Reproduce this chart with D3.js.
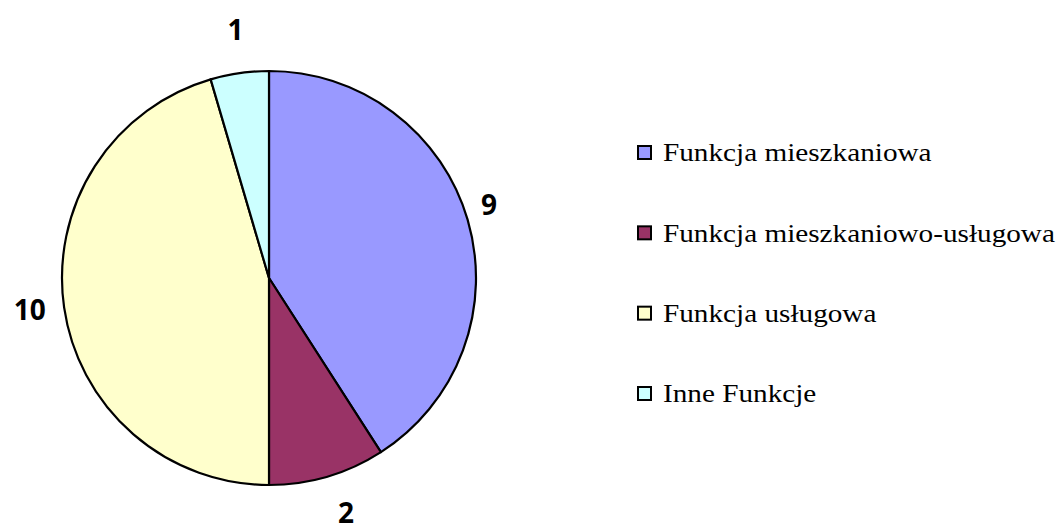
<!DOCTYPE html>
<html><head><meta charset="utf-8">
<script src="https://cdn.jsdelivr.net/npm/d3@7"></script>
<style>html,body{margin:0;padding:0;background:#fff;}
.leg text{font-family:"Liberation Serif","DejaVu Serif",serif;}</style>
</head><body>
<svg id="chart" width="1060" height="532"></svg>
<script>
const categories = ["Funkcja mieszkaniowa", "Funkcja mieszkaniowo-usługowa", "Funkcja usługowa", "Inne Funkcje"];
const values = [9, 2, 10, 1];
const colors = ["#9999FF", "#993366", "#FFFFCC", "#CCFFFF"];

const svg = d3.select("#chart");
const cx = 269, cy = 278, R = 207;
const g = svg.append("g").attr("transform", `translate(${cx},${cy})`);
const pie = d3.pie().sort(null).value(d => d)(values);
const arc = d3.arc().innerRadius(0).outerRadius(R);
g.selectAll("path.slice").data(pie).enter().append("path")
  .attr("class", "slice")
  .attr("d", arc)
  .attr("fill", (d, i) => colors[i])
  .attr("stroke", "#000").attr("stroke-width", 2.2).attr("stroke-linejoin", "round");

const lr = 226;
const labels = g.selectAll("text.lbl").data(pie).enter().append("text")
  .attr("class", "lbl")
  .attr("font-family", "'Open Sans', sans-serif").attr("font-weight", 700).attr("font-size", 28)
  .attr("text-anchor", "middle").attr("dominant-baseline", "central")
  .text(d => d.data);
labels.each(function(d) {
  const a = (d.startAngle + d.endAngle) / 2;
  const s = Math.sin(a), c = -Math.cos(a);
  const bb = this.getBBox();
  const x = lr * s + (bb.width / 2) * s + (c > 0 ? 12 * c * c : -5 * (1 - c * c));
  const y = lr * c + 22 * c - 4;
  d3.select(this).attr("x", x).attr("y", y);
});

const leg = svg.append("g").attr("class", "leg").attr("transform", "translate(638,0)");
const rowY = d3.scalePoint().domain(categories).range([153, 394]);
const items = leg.selectAll("g").data(categories).enter().append("g")
  .attr("transform", d => `translate(0,${rowY(d)})`);
items.append("rect").attr("x", 0).attr("y", -7).attr("width", 13).attr("height", 13)
  .attr("fill", (d, i) => colors[i]).attr("stroke", "#000").attr("stroke-width", 2);
const txt = items.append("text").attr("x", 0).attr("y", 0).attr("dominant-baseline", "central")
  .attr("font-size", 25).attr("fill", "#000")
  .text(d => d);
const maxW = d3.max(txt.nodes(), n => n.getComputedTextLength());
const sx = 392 / maxW;
txt.attr("transform", `translate(25,0) scale(${sx},1)`);
</script>
</body></html>
